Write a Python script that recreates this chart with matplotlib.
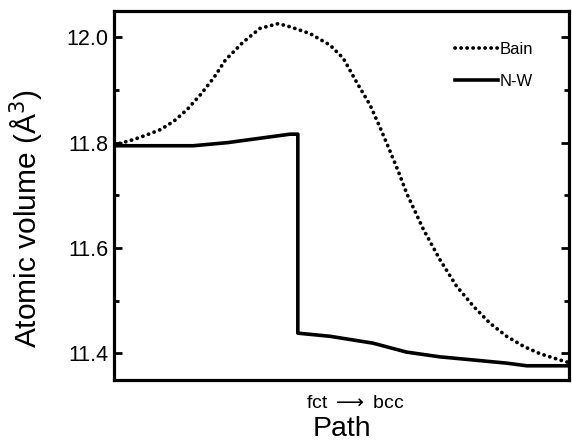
import numpy as np
import matplotlib
matplotlib.use('Agg')
import matplotlib.pyplot as plt
from matplotlib.ticker import MultipleLocator

plt.rcParams['font.family'] = ['Liberation Sans', 'DejaVu Sans']

# path coordinate, 0 = fct, 1 = bcc
bain_x = [0.0, 0.015, 0.044, 0.073, 0.103, 0.132, 0.161, 0.191, 0.220, 0.245,
          0.284, 0.321, 0.361, 0.387, 0.431, 0.475, 0.504, 0.533, 0.563, 0.585,
          0.607, 0.625, 0.643, 0.680, 0.716, 0.753, 0.790, 0.826, 0.863, 0.900,
          0.936, 0.980, 1.0]
bain_y = [11.796, 11.799, 11.806, 11.815, 11.825, 11.841, 11.863, 11.892, 11.924, 11.957,
          11.991, 12.017, 12.026, 12.020, 12.007, 11.985, 11.960, 11.915, 11.871, 11.828,
          11.783, 11.745, 11.704, 11.635, 11.578, 11.527, 11.489, 11.457, 11.432, 11.413,
          11.399, 11.387, 11.382]

nw_x = [0.0, 0.174, 0.25, 0.387, 0.404, 0.404, 0.475, 0.569, 0.643, 0.716, 0.790,
        0.863, 0.907, 1.0]
nw_y = [11.794, 11.794, 11.800, 11.816, 11.816, 11.438, 11.432, 11.419, 11.402, 11.393,
        11.387, 11.381, 11.376, 11.376]

fig = plt.figure(figsize=(5.72, 4.47), dpi=100)
ax = fig.add_axes([0.1993, 0.1499, 0.7955, 0.8255])

ax.plot(bain_x, bain_y, color='black', lw=2.7, linestyle=(0, (0.05, 1.55)),
        dash_capstyle='round', label='Bain')
ax.plot(nw_x, nw_y, color='black', lw=2.6, label='N-W')

ax.set_xlim(0, 1)
ax.set_ylim(11.349, 12.05)

ax.yaxis.set_major_locator(MultipleLocator(0.2))
ax.yaxis.set_minor_locator(MultipleLocator(0.1))
ax.yaxis.set_major_formatter(plt.FuncFormatter(lambda v, p: '%.1f' % v))
ax.tick_params(axis='y', which='both', direction='in', left=True, right=True,
               labelsize=15.5, width=2, pad=4)
ax.tick_params(axis='y', which='major', length=6)
ax.tick_params(axis='y', which='minor', length=3.5)

ax.set_xticks([0.53])
ax.set_xticklabels(['fct$\\;\\longrightarrow\\;$bcc'])
ax.tick_params(axis='x', length=0, labelsize=14, pad=11)

for s in ax.spines.values():
    s.set_linewidth(2.3)

ax.set_ylabel('Atomic volume (Å$^3$)', fontsize=21.5)
ax.yaxis.set_label_coords(-0.15, 0.436)
ax.set_xlabel('Path', fontsize=20.5, labelpad=3)

ax.legend(loc='upper right', bbox_to_anchor=(0.936, 0.934), borderaxespad=0,
          frameon=False, fontsize=12, handlelength=2.6, handletextpad=0.1,
          labelspacing=1.0)

fig.savefig('out.png', dpi=100)
